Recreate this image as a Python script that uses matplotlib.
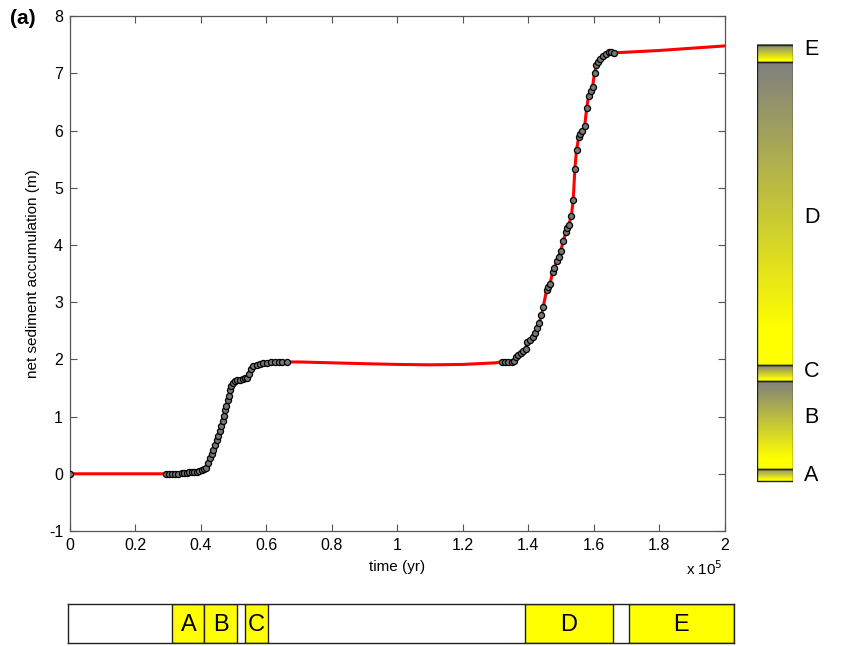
import numpy as np
import matplotlib.pyplot as plt
from matplotlib.colors import LinearSegmentedColormap
from matplotlib.patches import Rectangle

plt.rcParams['font.family'] = ['Liberation Sans', 'DejaVu Sans']
plt.rcParams['axes.unicode_minus'] = False

# sampled points (time in units of 1e5 yr, accumulation in m)
t_pts = [0.0,
         0.293, 0.302, 0.311, 0.321, 0.330, 0.342, 0.348, 0.357, 0.363, 0.372,
         0.379, 0.388, 0.394, 0.403, 0.409, 0.415,
         0.422, 0.427, 0.433, 0.438, 0.443, 0.448, 0.453, 0.458, 0.462, 0.466,
         0.471, 0.475, 0.478, 0.482, 0.485, 0.489, 0.493, 0.497,
         0.504, 0.511, 0.519, 0.527, 0.535, 0.541,
         0.546, 0.552, 0.560, 0.570, 0.580, 0.590, 0.601, 0.613, 0.626, 0.639,
         0.649, 0.662,
         1.318, 1.328, 1.338, 1.349, 1.356,
         1.362, 1.369, 1.376, 1.384, 1.392, 1.396, 1.405,
         1.413, 1.420, 1.427, 1.433, 1.440, 1.445,
         1.456, 1.461, 1.466, 1.474, 1.478, 1.488, 1.492, 1.499, 1.506,
         1.515, 1.518, 1.523, 1.531, 1.537,
         1.542, 1.547, 1.554, 1.559, 1.565, 1.572, 1.578, 1.584, 1.590, 1.596,
         1.602, 1.608, 1.614, 1.620, 1.628, 1.637, 1.645, 1.653, 1.661]
z_pts = [0.0,
         0.0, 0.0, 0.0, 0.0, 0.005, 0.01, 0.015, 0.02, 0.025, 0.03,
         0.035, 0.04, 0.05, 0.06, 0.08, 0.10,
         0.187, 0.274, 0.350, 0.42, 0.507, 0.594, 0.664, 0.752, 0.839, 0.927,
         1.014, 1.107, 1.189, 1.282, 1.364, 1.457, 1.538, 1.585,
         1.614, 1.632, 1.643, 1.655, 1.667, 1.672,
         1.748, 1.830, 1.876, 1.894, 1.912, 1.929, 1.941, 1.947, 1.952, 1.958,
         1.958, 1.955,
         1.955, 1.958, 1.960, 1.962, 1.965,
         2.05, 2.08, 2.11, 2.14, 2.18, 2.31, 2.34,
         2.40, 2.46, 2.55, 2.63, 2.78, 2.91,
         3.22, 3.27, 3.32, 3.52, 3.60, 3.72, 3.79, 3.89, 4.07,
         4.22, 4.30, 4.35, 4.50, 4.79,
         5.33, 5.66, 5.89, 5.94, 6.00, 6.08, 6.39, 6.61, 6.70, 6.77,
         7.00, 7.15, 7.20, 7.25, 7.31, 7.34, 7.37, 7.37, 7.36]

# smooth model curve between the sampled stretches
t_gap = [0.1, 0.2, 0.7, 0.8, 0.9, 1.0, 1.1, 1.2, 1.3, 1.7, 1.8, 1.9, 2.0]
z_gap = [0.0, 0.0, 1.955, 1.94, 1.925, 1.912, 1.905, 1.912, 1.94, 7.37, 7.40, 7.44, 7.48]

# facies units
units = ['A', 'B', 'C', 'D', 'E']
unit_time = [(0.313, 0.411), (0.411, 0.510), (0.535, 0.607), (1.391, 1.660), (1.709, 2.03)]
unit_depth = [(-0.12, 0.09), (0.09, 1.63), (1.63, 1.90), (1.90, 7.20), (7.20, 7.50)]
unit_label_y = [-0.03, 0.98, 1.78, 4.48, 7.41]

t_line = np.array(t_pts + t_gap)
z_line = np.array(z_pts + z_gap)
order = np.argsort(t_line)
t_line, z_line = t_line[order], z_line[order]

fig = plt.figure(figsize=(8.45, 6.46), dpi=100)
ax = fig.add_axes([0.0828, 0.178, 0.775, 0.797])

ax.plot(t_line, z_line, color='red', lw=2.2, zorder=2)
ax.plot(t_pts, z_pts, 'o', ms=4.4, mfc='#777777', mec='black', mew=0.9, ls='none', zorder=3)

ax.set_xlim(0, 2)
ax.set_ylim(-1, 8)
ax.set_xticks(np.arange(0, 2.01, 0.2))
ax.set_xticklabels(['0', '0.2', '0.4', '0.6', '0.8', '1', '1.2', '1.4', '1.6', '1.8', '2'])
ax.set_yticks(range(-1, 9))
ax.tick_params(direction='in', top=True, right=True, length=5, width=0.8,
               color='#555555', labelsize=11.5, pad=5)
for s in ax.spines.values():
    s.set_color('#555555')
    s.set_linewidth(0.9)
ax.set_xlabel('time (yr)', fontsize=11, labelpad=5)
ax.set_ylabel('net sediment accumulation (m)', fontsize=11, labelpad=6)
ax.text(0.997, -0.074, r'x 10$^5$', transform=ax.transAxes, ha='right', va='center', fontsize=11)
fig.text(0.012, 0.972, '(a)', fontsize=15, fontweight='bold', ha='left', va='center')

# vertical column, gray at top of each unit fading to yellow
cmap = LinearSegmentedColormap.from_list('gy', [(0, '#ffff00'), (0.12, '#ffff00'), (1, '#7f7f7f')])
grad = np.linspace(0, 1, 256).reshape(-1, 1)
axc = fig.add_axes([0.8959, 0.178, 0.0426, 0.797])
axc.set_xlim(0, 1)
axc.set_ylim(-1, 8)
axc.axis('off')
for name, (y0, y1), ly in zip(units, unit_depth, unit_label_y):
    axc.imshow(grad, extent=[0, 1, y0, y1], cmap=cmap, origin='lower', aspect='auto')
    axc.add_patch(Rectangle((0, y0), 1, y1 - y0, fill=False, ec='#222222', lw=1))
    axc.text(1.3, ly, name, fontsize=15.5, ha='left', va='center')

# horizontal time bar
axb = fig.add_axes([0.0805, 0.004, 0.788, 0.061])
axb.set_xlim(-0.006, 2.03)
axb.set_ylim(0, 1)
axb.set_xticks([])
axb.set_yticks([])
for s in axb.spines.values():
    s.set_color('#222222')
    s.set_linewidth(1)
for name, (x0, x1) in zip(units, unit_time):
    axb.add_patch(Rectangle((x0, 0), x1 - x0, 1, fc='#ffff00', ec='#222222', lw=1))
    axb.text((x0 + x1) / 2, 0.47, name, fontsize=17, ha='center', va='center')

fig.savefig('out.png', dpi=100)
